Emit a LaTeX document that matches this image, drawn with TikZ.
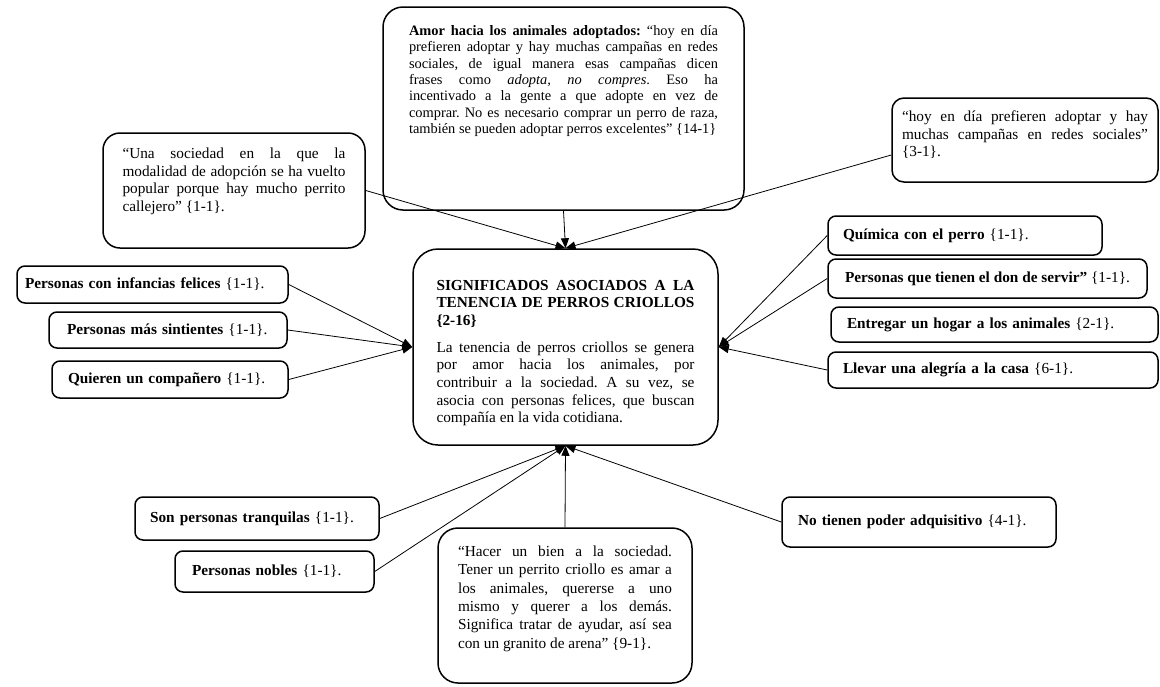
\documentclass[tikz,border=0pt]{standalone}
\usepackage{fontspec}
\setmainfont{Liberation Serif}[WordSpace={1,1.5,0}]
\usetikzlibrary{arrows.meta}
\hyphenpenalty=10000
\exhyphenpenalty=10000
\tolerance=9999
\emergencystretch=3em
\frenchspacing

\begin{document}
\begin{tikzpicture}[x=1pt, y=-1pt,
  every node/.style={font=\fontsize{15.3}{17.6}\selectfont},
  rbox/.style={draw, line width=1.5pt, rounded corners=8pt, align=left, inner ysep=0pt},
  bigbox/.style={rbox, align=justify},
  link/.style={line width=0.8pt, -{Triangle[length=10pt,width=8pt]}}]
  \useasboundingbox (0,0) rectangle (1160,686);

  % nodo central
  \node[bigbox, rounded corners=25pt,
    text width=258pt, inner xsep=23.5pt, text height=41pt, text depth=155pt] (centro) at (565.5,347)
    {\textbf{SIGNIFICADOS ASOCIADOS A LA TENENCIA DE PERROS CRIOLLOS \{2-16\}}\par\vspace{9.5pt}
     La tenencia de perros criollos se genera por amor hacia los animales, por contribuir a la sociedad. A su vez, se asocia con personas felices, que buscan compañía en la vida cotidiana.};

  % arriba
  \node[bigbox, rounded corners=20pt, font=\fontsize{14.4}{16.3}\selectfont,
    text width=309pt, inner xsep=26pt, text height=28.5pt, text depth=174.5pt] (amor) at (563.5,108.5)
    {\textbf{Amor hacia los animales adoptados:} “hoy en día\linebreak prefieren adoptar y hay muchas campañas en redes\linebreak sociales, de igual manera esas campañas dicen\linebreak frases como \textit{adopta, no compres}. Eso ha\linebreak incentivado a la gente a que adopte en vez de\linebreak comprar. No es necesario comprar un perro de raza,\linebreak también se pueden adoptar perros excelentes” \{14-1\}};
  \node[bigbox, rounded corners=17pt,
    text width=223pt, inner xsep=19.5pt, text height=25.5pt, text depth=89.5pt] (socie) at (234,190.5)
    {“Una sociedad en la que la modalidad de adopción se ha vuelto popular porque hay mucho perrito callejero” \{1-1\}.};
  \node[bigbox, rounded corners=12pt,
    text width=246pt, inner xsep=10pt, text height=23.5pt, text depth=60.5pt] (hoy) at (1025,140)
    {“hoy en día prefieren adoptar y hay muchas campañas en redes sociales” \{3-1\}.};

  % izquierda
  \node[rbox, text width=255pt, inner xsep=8pt, minimum height=37pt] (infan) at (152.5,284.5) {\textbf{Personas con infancias felices} \{1-1\}.};
  \node[rbox, text width=202pt, inner xsep=18pt, minimum height=36pt] (sinti) at (168,330) {\textbf{Personas más sintientes} \{1-1\}.};
  \node[rbox, text width=204pt, inner xsep=16pt, minimum height=37pt] (compa) at (170,379.5) {\textbf{Quieren un compañero} \{1-1\}.};

  % derecha
  \node[rbox, text width=244pt, inner xsep=15pt, minimum height=39pt] (quim) at (965,235.5) {\textbf{Química con el perro} \{1-1\}.};
  \node[rbox, minimum width=319pt, minimum height=39pt] (servir) at (987.5,278.5) {\textbf{Personas que tienen el don de servir”} \{1-1\}.};
  \node[rbox, text width=295pt, inner xsep=16pt, minimum height=35pt] (hogar) at (994.5,324.5) {\textbf{Entregar un hogar a los animales} \{2-1\}.};
  \node[rbox, text width=300pt, inner xsep=15pt, minimum height=36pt] (alegr) at (993,370) {\textbf{Llevar una alegría a la casa} \{6-1\}.};

  % abajo
  \node[rbox, text width=214pt, inner xsep=15pt, minimum height=43pt] (tranq) at (257,518.5) {\textbf{Son personas tranquilas} \{1-1\}.};
  \node[rbox, text width=165pt, inner xsep=17pt, minimum height=41pt] (noble) at (274.5,571.5) {\textbf{Personas nobles} \{1-1\}.};
  \node[bigbox, rounded corners=20pt, font=\fontsize{15.3}{18.3}\selectfont,
    text width=214pt, inner xsep=20pt, text height=28.5pt, text depth=126.5pt] (bien) at (565,605.5)
    {“Hacer un bien a la sociedad. Tener un perrito criollo es amar a\linebreak los animales, quererse a uno mismo y querer a los demás. Significa tratar de ayudar, así sea con un granito de arena” \{9-1\}.};
  \node[rbox, text width=242pt, inner xsep=16pt, minimum height=50pt] (poder) at (919,522) {\textbf{No tienen poder adquisitivo} \{4-1\}.};

  % flechas
  \foreach \src in {infan,sinti,compa} \draw[link] (\src.east) -- (centro.west);
  \foreach \src in {quim,servir,alegr} \draw[link] (\src.west) -- (centro.east);
  \draw[link] (socie.east) -- (centro.north);
  \draw[link] (amor.south) -- (centro.north);
  \draw[link] ([yshift=-15pt]hoy.west) -- (centro.north);
  \foreach \src in {tranq,noble} \draw[link] (\src.east) -- (centro.south);
  \draw[link] (bien.north) -- (centro.south);
  \draw[link] (poder.west) -- (centro.south);
\end{tikzpicture}
\end{document}
